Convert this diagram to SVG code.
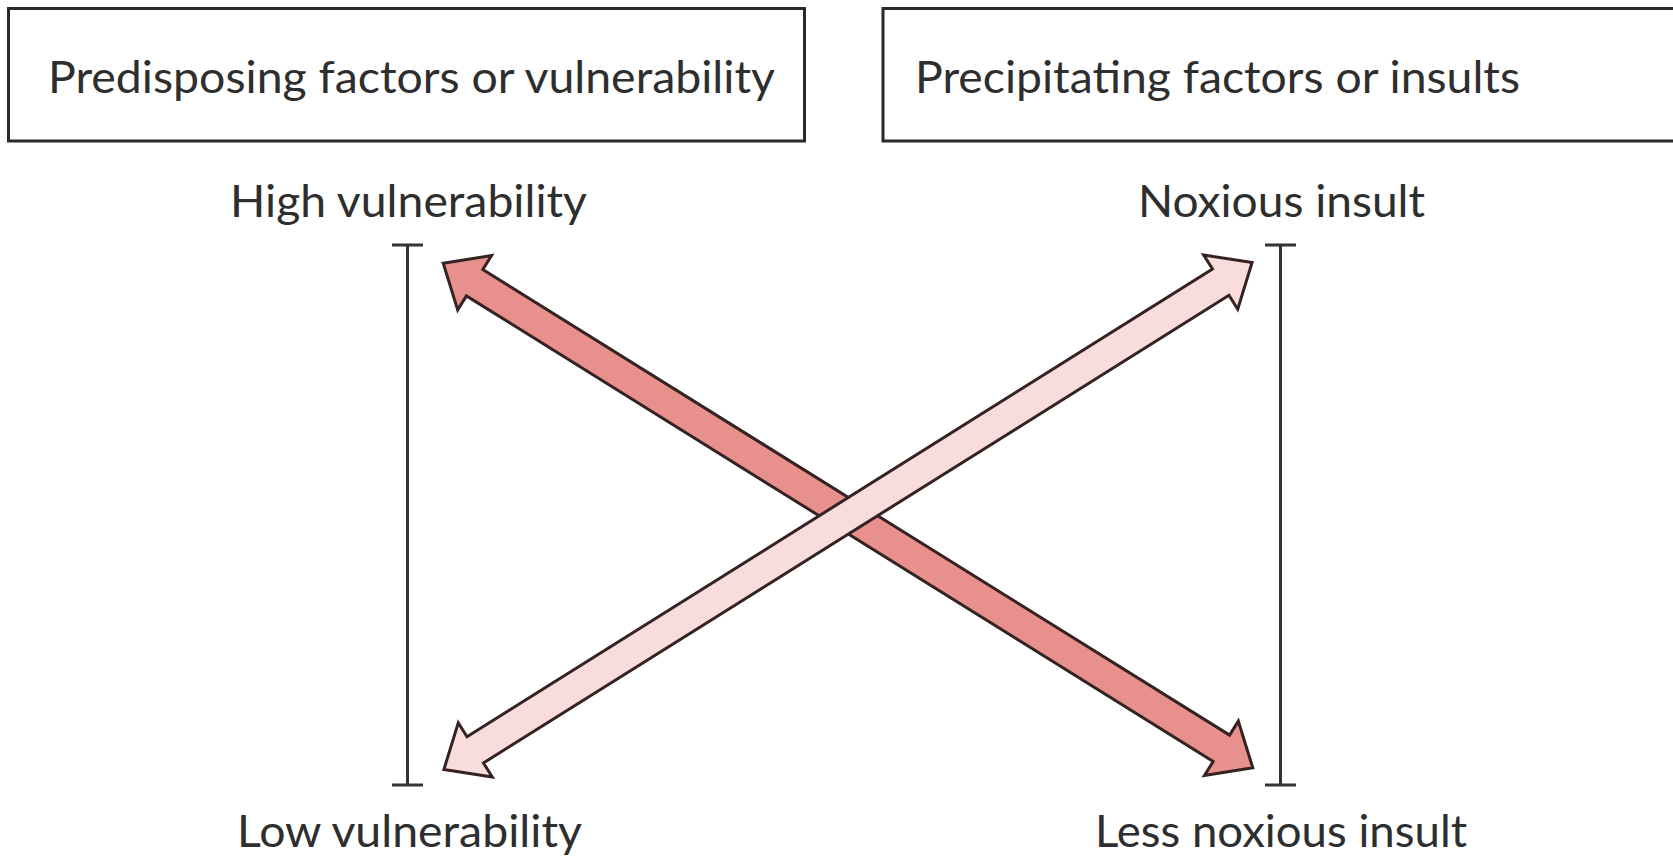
<svg xmlns="http://www.w3.org/2000/svg" width="1673" height="860" viewBox="0 0 1673 860">
  <style>
    .box { fill: #ffffff; stroke: #2a2a2a; stroke-width: 3; }
    .title { font-family: Lato, "Open Sans", "Liberation Sans", sans-serif; font-size: 44px; fill: #2e2e2e; }
    .label { font-family: Lato, "Open Sans", "Liberation Sans", sans-serif; font-size: 44px; fill: #2e2e2e; }
    .bar { stroke: #333333; stroke-width: 3; fill: none; }
    .arrow { stroke: #352222; stroke-width: 3; stroke-linejoin: miter; }
    .dark { fill: #e8918c; }
    .light { fill: #f9dcdc; }
  </style>
  <defs>
    <polygon id="dblArrow" points="-477,0 -440,-32 -440,-15.5 440,-15.5 440,-32 477,0 440,32 440,15.5 -440,15.5 -440,32"/>
  </defs>
  <rect x="0" y="0" width="1673" height="860" fill="#ffffff"/>

  <g id="node-predisposing">
    <rect class="box" x="8.5" y="8.5" width="796" height="132.5"/>
    <text class="title" x="48" y="93" textLength="727" lengthAdjust="spacingAndGlyphs">Predisposing factors or vulnerability</text>
  </g>
  <g id="node-precipitating">
    <rect class="box" x="883" y="8.5" width="800" height="132.5"/>
    <text class="title" x="915" y="93" textLength="605" lengthAdjust="spacingAndGlyphs">Precipitating factors or insults</text>
  </g>

  <g id="node-high">
    <text class="label" x="230" y="217" textLength="357" lengthAdjust="spacingAndGlyphs">High vulnerability</text>
  </g>
  <g id="node-low">
    <text class="label" x="237" y="847" textLength="345" lengthAdjust="spacingAndGlyphs">Low vulnerability</text>
  </g>
  <g id="node-noxious">
    <text class="label" x="1138" y="217" textLength="287" lengthAdjust="spacingAndGlyphs">Noxious insult</text>
  </g>
  <g id="node-less-noxious">
    <text class="label" x="1095" y="847" textLength="372" lengthAdjust="spacingAndGlyphs">Less noxious insult</text>
  </g>

  <g id="scale-left">
    <path class="bar" d="M407.5,245 V785 M392,245 H423 M392,785 H423"/>
  </g>
  <g id="scale-right">
    <path class="bar" d="M1280.5,245 V785 M1265,245 H1296 M1265,785 H1296"/>
  </g>

  <g id="connectors">
    <use href="#dblArrow" class="arrow dark" transform="translate(848,515.5) rotate(31.94)"/>
    <use href="#dblArrow" class="arrow light" transform="translate(848,516) rotate(-32.1)"/>
  </g>
</svg>
